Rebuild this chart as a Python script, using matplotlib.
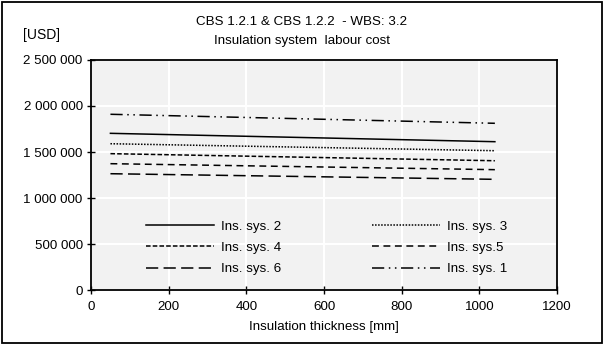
import matplotlib.pyplot as plt
from matplotlib.ticker import FuncFormatter, MultipleLocator
from matplotlib.patches import Rectangle

plt.rcParams['font.family'] = ['Liberation Sans', 'DejaVu Sans']
plt.rcParams['font.size'] = 9.6

# insulation thickness [mm]
thickness = [50, 1040]

sys1 = [1910000, 1812000]
sys2 = [1703000, 1612000]
sys3 = [1590000, 1514000]
sys4 = [1482000, 1405000]
sys5 = [1373000, 1308000]
sys6 = [1264000, 1203000]

fig = plt.figure(figsize=(6.04, 3.45), dpi=100)
ax = fig.add_axes([0.1507, 0.1594, 0.7715, 0.6667])
ax.set_facecolor('#f2f2f2')

lw = 1.1
l2, = ax.plot(thickness, sys2, color='black', lw=lw, ls='-', label='Ins. sys. 2')
l3, = ax.plot(thickness, sys3, color='black', lw=lw, ls=(0, (1, 1)), label='Ins. sys. 3')
l4, = ax.plot(thickness, sys4, color='black', lw=lw, ls=(0, (3, 1.4)), label='Ins. sys. 4')
l5, = ax.plot(thickness, sys5, color='black', lw=lw, ls=(0, (4.5, 3)), label='Ins. sys.5')
l6, = ax.plot(thickness, sys6, color='black', lw=lw, ls=(0, (8, 3.5)), label='Ins. sys. 6')
l1, = ax.plot(thickness, sys1, color='black', lw=lw, ls=(0, (8, 3, 1, 3, 1, 3)), label='Ins. sys. 1')

ax.set_xlim(0, 1200)
ax.set_ylim(0, 2500000)
ax.xaxis.set_major_locator(MultipleLocator(200))
ax.yaxis.set_major_locator(MultipleLocator(500000))
ax.yaxis.set_major_formatter(FuncFormatter(lambda v, p: f'{int(v):,}'.replace(',', ' ')))
ax.grid(True, color='white', lw=1.5)
ax.set_axisbelow(True)
ax.tick_params(direction='inout', length=6, width=1, labelsize=9.6, pad=3)
ax.tick_params(axis='x', pad=5)
for s in ax.spines.values():
    s.set_linewidth(1.3)

ax.set_xlabel('Insulation thickness [mm]', labelpad=6)

leg = ax.legend(handles=[l2, l4, l6, l3, l5, l1], ncol=2, frameon=False,
                loc='center', bbox_to_anchor=(0.506, 0.183),
                handlelength=5.1, columnspacing=6.8, handletextpad=0.55,
                labelspacing=0.66, fontsize=9.6)

fig.text(0.5, 0.936, 'CBS 1.2.1 & CBS 1.2.2  - WBS: 3.2', ha='center', va='center')
fig.text(0.5, 0.881, 'Insulation system  labour cost', ha='center', va='center')
fig.text(0.068, 0.898, '[USD]', ha='center', va='center', fontsize=10)

fig.patches.append(Rectangle((0.004, 0.006), 0.992, 0.988, transform=fig.transFigure,
                             fill=False, edgecolor='black', lw=1.3))

fig.savefig('out.png', dpi=100)
